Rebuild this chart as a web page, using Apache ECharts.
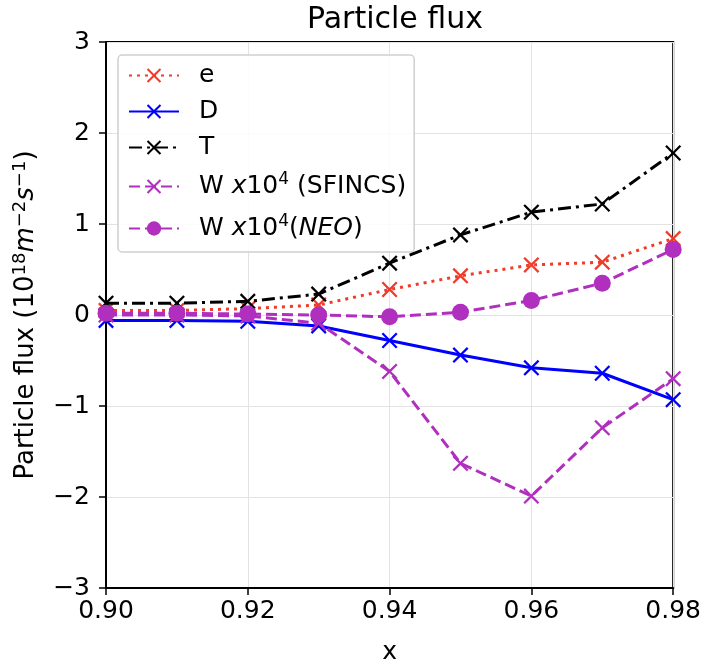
<!DOCTYPE html>
<html>
<head>
<meta charset="utf-8">
<script src="https://cdn.jsdelivr.net/npm/echarts@6/dist/echarts.min.js"></script>
<style>
html,body{margin:0;padding:0;background:#fff;}
#c{width:704px;height:670px;}
</style>
</head>
<body>
<div id="c"></div>
<script>
// ---- data ----
const xs = [0.90, 0.91, 0.92, 0.93, 0.94, 0.95, 0.96, 0.97, 0.98];
const eVals = [0.05, 0.05, 0.07, 0.11, 0.28, 0.43, 0.55, 0.58, 0.84];
const dVals = [-0.06, -0.06, -0.07, -0.12, -0.28, -0.44, -0.58, -0.64, -0.93];
const tVals = [0.13, 0.13, 0.15, 0.23, 0.57, 0.88, 1.13, 1.22, 1.78];
const wSfincsVals = [0.00, 0.00, -0.01, -0.09, -0.62, -1.63, -1.99, -1.24, -0.70];
const wNeoVals = [0.02, 0.02, 0.01, 0.00, -0.02, 0.03, 0.16, 0.35, 0.72];
const xTickLabels = ['0.90', '0.92', '0.94', '0.96', '0.98'];
const yTickLabels = ['\u22123', '\u22122', '\u22121', '0', '1', '2', '3'];
const seriesNames = ['e', 'D', 'T', 'W x10^4 (SFINCS)', 'W x10^4(NEO)'];

const FONT = 'DejaVu Sans';
const X_SYM = 'path://M0,2L2,0L10,8L18,0L20,2L12,10L20,18L18,20L10,12L2,20L0,18L8,10Z';
const RED = '#f03a2a', BLUE = '#0000ff', BLACK = '#000000', PURPLE = '#b02fbe';

function pairs(vals) { return xs.map((x, i) => [x, vals[i]]); }

const legendRich = {
  i: { fontFamily: FONT, fontSize: 25, fontStyle: 'italic', color: '#000', lineHeight: 28 },
  sup: { fontFamily: FONT, fontSize: 17, color: '#000', lineHeight: 17, padding: [0, 0, 14, 0] },
  n: { fontFamily: FONT, fontSize: 25, color: '#000', lineHeight: 28 }
};
function legendFmt(name) {
  if (name === seriesNames[3]) return '{n|W }{i|x}{n|10}{sup|4}{n| (SFINCS)}';
  if (name === seriesNames[4]) return '{n|W }{i|x}{n|10}{sup|4}{n|(}{i|NEO}{n|)}';
  return '{n|' + name + '}';
}

function mk(name, vals, color, type, symbol, size, z) {
  return {
    name: name, type: 'line', data: pairs(vals), z: z,
    symbol: symbol, symbolSize: size, showSymbol: true,
    lineStyle: { color: color, width: 3, type: type },
    itemStyle: { color: color },
    clip: true, animation: false
  };
}

const chart = echarts.init(document.getElementById('c'), null, { renderer: 'canvas' });
chart.setOption({
  animation: false,
  backgroundColor: '#fff',
  title: {
    text: 'Particle flux', left: 390, textAlign: 'center', top: 0,
    textStyle: { fontFamily: FONT, fontSize: 30, fontWeight: 'normal', color: '#000' }
  },
  grid: { left: 106, right: 29, top: 42, bottom: 73, show: true, borderColor: '#000', borderWidth: 2, backgroundColor: 'transparent' },
  legend: {
    left: 118, top: 55, orient: 'vertical',
    itemWidth: 50, itemHeight: 18, itemGap: 11,
    padding: [8, 8, 8, 10],
    backgroundColor: 'rgba(255,255,255,0.85)', borderColor: '#d0d0d0', borderWidth: 1.5, borderRadius: 4,
    data: seriesNames,
    formatter: legendFmt,
    textStyle: { fontFamily: FONT, fontSize: 25, color: '#000', rich: legendRich, padding: [0, 0, 0, 15] }
  },
  xAxis: {
    type: 'value', min: 0.90, max: 0.98, interval: 0.02,
    name: 'x', nameLocation: 'middle', nameGap: 52,
    nameTextStyle: { fontFamily: FONT, fontSize: 25, color: '#000' },
    axisLine: { show: true, onZero: false, lineStyle: { color: '#000', width: 2 } },
    axisTick: { show: true, length: 7, lineStyle: { color: '#000', width: 1.5 } },
    axisLabel: {
      margin: 11, fontFamily: FONT, fontSize: 25, color: '#000',
      formatter: v => xTickLabels[Math.round((v - 0.90) / 0.02)] || ''
    },
    splitLine: { show: true, lineStyle: { color: '#e3e3e3', width: 1 } }
  },
  yAxis: {
    type: 'value', min: -3, max: 3, interval: 1,
    name: 'Particle flux (10{s|18}{i|m}{s|\u22122}{i|s}{s|\u22121})',
    nameLocation: 'middle', nameGap: 64, nameRotate: 90,
    nameTextStyle: {
      fontFamily: FONT, fontSize: 26, color: '#000',
      rich: {
        s: { fontFamily: FONT, fontSize: 18, color: '#000', padding: [0, 0, 13, 0] },
        i: { fontFamily: FONT, fontSize: 26, fontStyle: 'italic', color: '#000' }
      }
    },
    axisLine: { show: true, onZero: false, lineStyle: { color: '#000', width: 2 } },
    axisTick: { show: true, length: 7, lineStyle: { color: '#000', width: 1.5 } },
    axisLabel: {
      margin: 16, fontFamily: FONT, fontSize: 25, color: '#000',
      formatter: v => yTickLabels[Math.round(v + 3)]
    },
    splitLine: { show: true, lineStyle: { color: '#e3e3e3', width: 1 } }
  },
  series: [
    mk(seriesNames[0], eVals, RED, [3, 5], X_SYM, 16, 2),
    mk(seriesNames[1], dVals, BLUE, 'solid', X_SYM, 16, 3),
    mk(seriesNames[2], tVals, BLACK, [13, 5, 3, 5], X_SYM, 16, 4),
    mk(seriesNames[3], wSfincsVals, PURPLE, [11, 5], X_SYM, 16, 5),
    mk(seriesNames[4], wNeoVals, PURPLE, [11, 5], 'circle', 17, 6)
  ]
});
</script>
</body>
</html>
